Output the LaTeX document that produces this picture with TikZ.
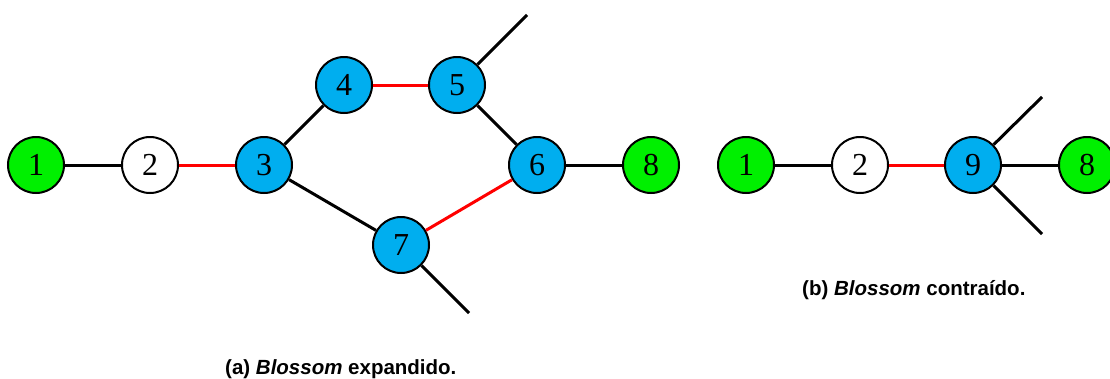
\documentclass[tikz,border=0pt]{standalone}
\usepackage{fontspec}
\setmainfont{Liberation Serif}
\setsansfont{Liberation Sans}
\definecolor{nodeblue}{RGB}{0,174,239}
\definecolor{nodegreen}{RGB}{0,240,0}
\definecolor{matchred}{RGB}{255,0,0}
\begin{document}
\begin{tikzpicture}[x=1pt,y=-1pt,
  vtx/.style={circle,draw=black,line width=2pt,minimum size=56pt,inner sep=0pt,font=\fontsize{32}{32}\selectfont},
  bluev/.style={vtx,fill=nodeblue},
  greenv/.style={vtx,fill=nodegreen},
  whitev/.style={vtx,fill=white},
  edge/.style={line width=3pt,black},
  medge/.style={line width=3pt,matchred},
  capt/.style={anchor=base west,inner sep=0pt,font=\sffamily\bfseries\fontsize{20.5}{24}\selectfont}]
\useasboundingbox (0,0) rectangle (1110,378);
% (a)
\node[greenv] (a1) at (36,165) {1};
\node[whitev] (a2) at (150,165) {2};
\node[bluev] (a3) at (264,165) {3};
\node[bluev] (a4) at (344,85) {4};
\node[bluev] (a5) at (457,85) {5};
\node[bluev] (a6) at (537,165) {6};
\node[greenv] (a8) at (651,165) {8};
\node[bluev] (a7) at (401,245) {7};
\coordinate (e5) at (527,15);
\coordinate (e7) at (469,313);
\draw[edge] (a1) -- (a2);
\draw[medge] (a2) -- (a3);
\draw[edge] (a3) -- (a4);
\draw[medge] (a4) -- (a5);
\draw[edge] (a5) -- (a6);
\draw[edge] (a6) -- (a8);
\draw[medge] (a6) -- (a7);
\draw[edge] (a3) -- (a7);
\draw[edge] (a5) -- (e5);
\draw[edge] (a7) -- (e7);
% (b)
\node[greenv] (b1) at (746,165) {1};
\node[whitev] (b2) at (860,165) {2};
\node[bluev] (b9) at (973,165) {9};
\node[greenv] (b8) at (1087,165) {8};
\coordinate (e9a) at (1042,97);
\coordinate (e9b) at (1042,234);
\draw[edge] (b1) -- (b2);
\draw[medge] (b2) -- (b9);
\draw[edge] (b9) -- (b8);
\draw[edge] (b9) -- (e9a);
\draw[edge] (b9) -- (e9b);
% captions
\node[capt] (ca) at (225,374) {(a) \textit{Blossom} expandido.};
\node[capt] (cb) at (802,295) {(b) \textit{Blossom} contraído.};
\end{tikzpicture}
\end{document}
